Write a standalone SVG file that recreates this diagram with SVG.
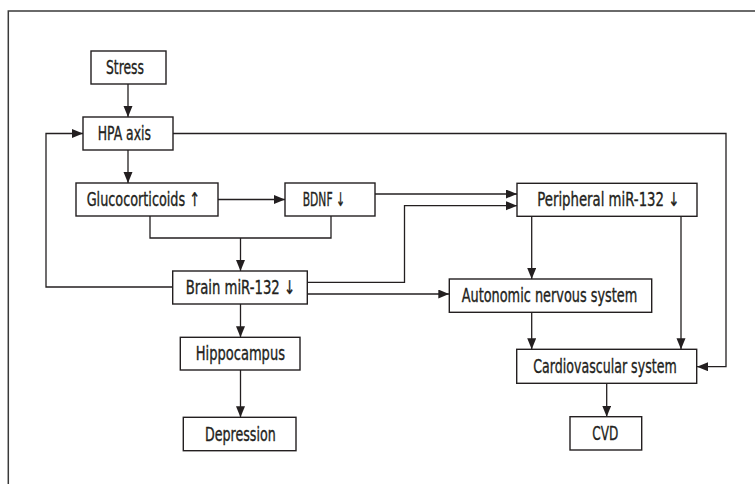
<svg xmlns="http://www.w3.org/2000/svg" width="755" height="484" viewBox="0 0 755 484">
<style>
.box{fill:#fff;stroke:#231f20;stroke-width:1.4}
.ln{fill:none;stroke:#231f20;stroke-width:1.3}
.ar{fill:none;stroke:#231f20;stroke-width:1.3;marker-end:url(#ah)}
.t{font-family:"DejaVu Sans Condensed","Liberation Sans",sans-serif;font-size:19px;font-variant-emoji:text;fill:#231f20;stroke:#231f20;stroke-width:0.35}
</style>
<defs>
<marker id="ah" markerUnits="userSpaceOnUse" markerWidth="11" markerHeight="10" refX="11" refY="4.5" orient="auto">
<path d="M0,0 L11,4.5 L0,9 z" fill="#231f20"/>
</marker>
</defs>
<rect width="755" height="484" fill="#fff"/>
<path d="M8.3,484 V11 H755" fill="none" stroke="#3a3a3a" stroke-width="1.5"/>
<g id="connectors">
<path class="ar" d="M128,84 V117"/>
<path class="ar" d="M128,150 V183"/>
<path class="ar" d="M218,199.5 H285"/>
<path class="ln" d="M150,216 V238 H331 V216"/>
<path class="ar" d="M240.5,238 V271"/>
<path class="ar" d="M173,287 H46 V133.5 H83"/>
<path class="ar" d="M173,133.5 H726 V366.7 H697"/>
<path class="ar" d="M375,194 H517"/>
<path class="ar" d="M307,282.3 H404.5 V205.7 H517"/>
<path class="ar" d="M307,294 H449.3"/>
<path class="ar" d="M531.7,216 V279"/>
<path class="ar" d="M681,216 V349.3"/>
<path class="ar" d="M531.7,312.3 V349.3"/>
<path class="ar" d="M240.5,304 V337.3"/>
<path class="ar" d="M240.5,370 V417.3"/>
<path class="ar" d="M606.7,383.3 V416.7"/>
</g>
<g id="stress">
<rect class="box" x="91" y="51" width="75" height="33"/>
<text class="t" x="106" y="74.3" textLength="38" lengthAdjust="spacingAndGlyphs">Stress</text>
</g>
<g id="hpa">
<rect class="box" x="83" y="117" width="90" height="33"/>
<text class="t" x="97.7" y="140" textLength="53.3" lengthAdjust="spacingAndGlyphs">HPA axis</text>
</g>
<g id="glucocorticoids">
<rect class="box" x="76" y="183" width="142" height="33"/>
<text class="t" x="86.7" y="206" textLength="113.3" lengthAdjust="spacingAndGlyphs">Glucocorticoids ↑</text>
</g>
<g id="bdnf">
<rect class="box" x="285" y="183" width="90" height="33"/>
<text class="t" x="302.7" y="206" textLength="42.3" lengthAdjust="spacingAndGlyphs">BDNF ↓</text>
</g>
<g id="peripheral">
<rect class="box" x="517" y="183.3" width="180" height="33"/>
<text class="t" x="537.3" y="206" textLength="142" lengthAdjust="spacingAndGlyphs">Peripheral miR-132 ↓</text>
</g>
<g id="brain">
<rect class="box" x="172.7" y="271" width="134.6" height="33"/>
<text class="t" x="185.7" y="294" textLength="109.3" lengthAdjust="spacingAndGlyphs">Brain miR-132 ↓</text>
</g>
<g id="ans">
<rect class="box" x="449.3" y="279" width="202.4" height="33.3"/>
<text class="t" x="461.7" y="302.3" textLength="175.6" lengthAdjust="spacingAndGlyphs">Autonomic nervous system</text>
</g>
<g id="hippocampus">
<rect class="box" x="180.3" y="337.3" width="119.7" height="32.7"/>
<text class="t" x="195.7" y="360.3" textLength="89.3" lengthAdjust="spacingAndGlyphs">Hippocampus</text>
</g>
<g id="cardio">
<rect class="box" x="516.7" y="349.3" width="180" height="34"/>
<text class="t" x="533.3" y="372.8" textLength="143.4" lengthAdjust="spacingAndGlyphs">Cardiovascular system</text>
</g>
<g id="depression">
<rect class="box" x="183.3" y="417.3" width="112.7" height="33.4"/>
<text class="t" x="205" y="440.5" textLength="70.7" lengthAdjust="spacingAndGlyphs">Depression</text>
</g>
<g id="cvd">
<rect class="box" x="570" y="416.7" width="71.7" height="33.3"/>
<text class="t" x="592.3" y="440" textLength="26" lengthAdjust="spacingAndGlyphs">CVD</text>
</g>
</svg>
